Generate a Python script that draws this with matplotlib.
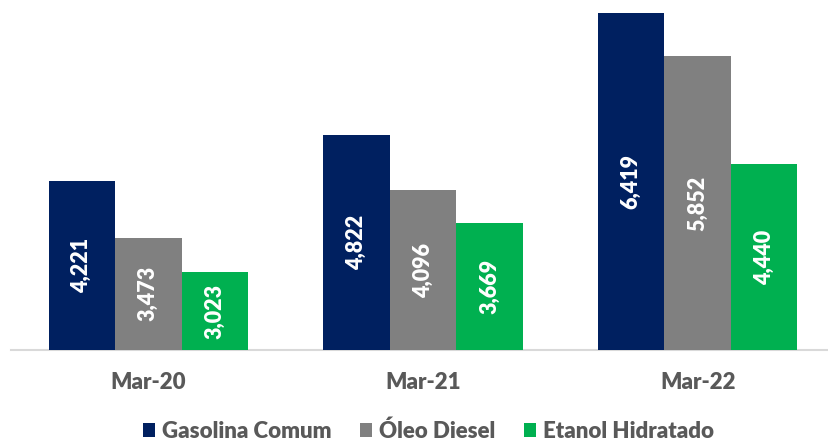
import matplotlib
matplotlib.use("Agg")
import matplotlib.pyplot as plt
from matplotlib.patches import Patch
import numpy as np

categories = ["Mar-20", "Mar-21", "Mar-22"]
series_names = ["Gasolina Comum", "Óleo Diesel", "Etanol Hidratado"]
gasolina = [4.221, 4.822, 6.419]
diesel = [3.473, 4.096, 5.852]
etanol = [3.023, 3.669, 4.440]
colors = ["#002060", "#808080", "#00B050"]

plt.rcParams['font.family'] = ['Lato', 'DejaVu Sans']

W, H = 829, 442
fig = plt.figure(figsize=(W / 100, H / 100), dpi=100)
ax = fig.add_axes([11 / W, (H - 350) / H, 824 / W, 350 / H])

x = np.arange(len(categories))
bw = 0.242
series = [gasolina, diesel, etanol]
for i, (vals, col) in enumerate(zip(series, colors)):
    pos = x + (i - 1) * bw
    ax.bar(pos, vals, width=bw, bottom=0, color=col, zorder=2)
    for xp, v in zip(pos, vals):
        ymid = (2.0 + v) / 2
        ax.text(xp, ymid, f"{v:.3f}".replace('.', ','), rotation=90,
                ha='center', va='center', color='white', fontsize=15.5,
                fontweight='heavy', zorder=3)

ax.set_xlim(-0.5, 2.5)
ax.set_ylim(2.0, 2.0 + 350 / 76.27)
ax.set_xticks(x)
ax.set_xticklabels(categories, fontsize=16, fontweight='heavy', color='#595959')
ax.tick_params(axis='x', length=0, pad=16)
ax.set_yticks([])
for s in ['top', 'right', 'left']:
    ax.spines[s].set_visible(False)
ax.spines['bottom'].set_color('#D9D9D9')
ax.spines['bottom'].set_linewidth(1.5)
ax.spines['bottom'].set_zorder(1)

handles = [Patch(facecolor=c, edgecolor='none', label=n) for c, n in zip(colors, series_names)]
leg = fig.legend(handles=handles, loc='center', bbox_to_anchor=(428.5 / W, 1 - 431 / H),
                 ncol=3, frameon=False, handlelength=0.55, handleheight=0.55,
                 handletextpad=0.3, columnspacing=1.3,
                 prop={'family': ['Lato', 'DejaVu Sans'], 'weight': 'heavy', 'size': 16})
for t in leg.get_texts():
    t.set_color('#595959')

fig.savefig("out.png", dpi=100)
